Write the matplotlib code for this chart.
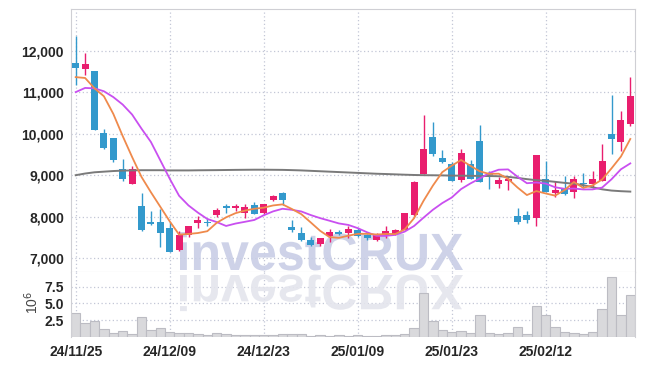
import numpy as np
import pandas as pd
import matplotlib
matplotlib.use("Agg")
import matplotlib.pyplot as plt
from matplotlib.font_manager import FontProperties
from matplotlib.textpath import TextPath
from matplotlib.patches import PathPatch
from matplotlib.transforms import Affine2D
from matplotlib.ticker import FuncFormatter

# trading days (KRX), ticks every 10 sessions
holidays = ["2024-12-25", "2024-12-31", "2025-01-01",
            "2025-01-27", "2025-01-28", "2025-01-29", "2025-01-30"]
dates = pd.bdate_range("2024-11-25", "2025-02-25", freq="C", holidays=holidays)

opens = [11710, 11550, 11500, 10010, 9890, 9150, 8790, 8260, 7870, 7880,
         7740, 7200, 7560, 7840, 7880, 8030, 8265, 8200, 8080, 8280,
         8080, 8410, 8570, 7760, 7610, 7450, 7340, 7530, 7610, 7600,
         7690, 7550, 7450, 7530, 7580, 7680, 8030, 9030, 9930, 9420,
         9260, 8890, 9260, 9820, 9030, 8790, 8870, 8010, 8040, 7960,
         8900, 8560, 8680, 8590, 8810, 8800, 8870, 9990, 9800, 10230]
highs = [12360, 11950, 11500, 10100, 9900, 9380, 9230, 8560, 8140, 8180,
         7870, 7660, 7780, 8010, 7960, 8200, 8300, 8310, 8300, 8360,
         8310, 8530, 8590, 7920, 7760, 7520, 7500, 7710, 7680, 7770,
         7740, 7580, 7610, 7770, 7700, 8100, 8850, 10440, 10270, 9600,
         9320, 9640, 9360, 10200, 9090, 8950, 8970, 8200, 8140, 9490,
         9340, 8870, 8970, 8970, 9050, 9110, 9750, 10920, 10540, 11370]
lows = [11180, 11400, 10080, 9620, 9320, 8860, 8790, 7660, 7790, 7260,
        7160, 7180, 7520, 7720, 7770, 7995, 8090, 8150, 7980, 8060,
        8060, 8380, 8280, 7640, 7420, 7300, 7290, 7390, 7550, 7480,
        7510, 7440, 7420, 7480, 7570, 7670, 8020, 9030, 9470, 9290,
        8850, 8830, 8910, 8840, 8670, 8680, 8640, 7830, 7840, 7780,
        8590, 8470, 8530, 8440, 8680, 8700, 8860, 9500, 9590, 10180]
closes = [11580, 11680, 10090, 9660, 9370, 8910, 9160, 7690, 7820, 7620,
          7160, 7560, 7770, 7930, 7840, 8170, 8220, 8270, 8240, 8060,
          8300, 8490, 8400, 7680, 7440, 7310, 7480, 7640, 7590, 7700,
          7530, 7490, 7550, 7660, 7690, 8090, 8840, 9630, 9500, 9310,
          8860, 9530, 8920, 8840, 9000, 8890, 8910, 7880, 7930, 9480,
          8600, 8650, 8540, 8910, 8780, 8900, 9350, 9880, 10330, 10900]
# volume in millions of shares
volume = [3.6, 2.1, 2.4, 1.2, 0.55, 0.9, 0.4, 3.0, 1.05, 1.35,
          0.75, 0.6, 0.55, 0.4, 0.25, 0.55, 0.45, 0.3, 0.35, 0.3,
          0.35, 0.3, 0.45, 0.5, 0.4, 0.2, 0.25, 0.2, 0.35, 0.2,
          0.25, 0.15, 0.2, 0.35, 0.3, 0.45, 1.35, 6.5, 2.4, 1.0,
          0.75, 0.85, 0.55, 3.3, 0.55, 0.4, 0.55, 1.45, 0.4, 4.65,
          3.3, 1.45, 0.7, 0.55, 0.4, 0.7, 4.2, 8.9, 3.3, 6.3]
ma5 = [11360, 11340, 11090, 10900, 10476, 9942, 9438, 8958, 8590, 8240,
       7890, 7570, 7586, 7608, 7652, 7854, 7986, 8086, 8148, 8192,
       8218, 8272, 8298, 8186, 8062, 7864, 7662, 7510, 7492, 7544,
       7588, 7590, 7572, 7586, 7584, 7696, 7966, 8382, 8750, 9074,
       9228, 9366, 9224, 9092, 9030, 9036, 8912, 8704, 8522, 8618,
       8560, 8508, 8640, 8836, 8696, 8756, 8896, 9164, 9448, 9872]
ma10 = [11000, 11100, 11090, 11020, 10880, 10700, 10460, 10120, 9800, 9358,
        8916, 8504, 8272, 8099, 7946, 7872, 7778, 7836, 7878, 7922,
        8036, 8129, 8192, 8167, 8127, 8041, 7967, 7904, 7839, 7803,
        7726, 7626, 7541, 7539, 7564, 7642, 7778, 7977, 8168, 8329,
        8462, 8666, 8803, 8921, 9052, 9132, 9139, 8964, 8807, 8824,
        8798, 8710, 8672, 8679, 8657, 8658, 8702, 8902, 9142, 9284]
ma_long = [9000, 9040, 9070, 9085, 9100, 9110, 9115, 9120, 9120, 9120,
           9115, 9115, 9115, 9118, 9120, 9122, 9125, 9128, 9130, 9132,
           9132, 9130, 9128, 9122, 9115, 9105, 9095, 9085, 9075, 9065,
           9055, 9045, 9035, 9028, 9020, 9012, 9005, 9000, 8998, 8995,
           8990, 8988, 8985, 8982, 8980, 8975, 8960, 8935, 8905, 8880,
           8865, 8840, 8815, 8795, 8760, 8710, 8660, 8630, 8615, 8605]

FONT = ["Liberation Sans", "DejaVu Sans"]
plt.rcParams["font.family"] = FONT
UP, DOWN = "#e91e6e", "#3399cc"
GRID = "#c3c7d6"
TXT = "#262626"

W, H = 645, 366
fig = plt.figure(figsize=(W / 100, H / 100), dpi=100)
ax = fig.add_axes([71 / W, 1 - 272 / H, 564 / W, 263 / H])
axv = fig.add_axes([71 / W, 1 - 337 / H, 564 / W, 65 / H], sharex=ax)

x = np.arange(len(closes))
o, h, l, c = map(np.asarray, (opens, highs, lows, closes))
cols = np.where(c >= o, UP, DOWN)
ax.vlines(x, l, h, colors=cols, lw=1.0, zorder=3)
ax.bar(x, np.maximum(np.abs(c - o), 40), bottom=np.minimum(o, c),
       width=0.74, color=cols, lw=0, zorder=4)

ax.plot(x, ma_long, color="#7a7a7a", lw=1.4, zorder=5)
ax.plot(x, ma10, color="#c94ff0", lw=1.3, zorder=5)
ax.plot(x, ma5, color="#ef8a4c", lw=1.3, zorder=5)

ax.set_xlim(-0.5, len(x) - 0.5)
ax.set_ylim(6670, 13000)
ax.set_yticks(range(7000, 12001, 1000))
ax.yaxis.set_major_formatter(FuncFormatter(lambda v, p: f"{int(v):,}"))

axv.bar(x, volume, width=1.0, color="#d9d9dc", edgecolor="#bcbcc3", lw=0.8, zorder=2)
axv.set_ylim(0, 9.7)
axv.set_yticks([2.5, 5.0, 7.5])
axv.set_yticklabels(["2.5", "5.0", "7.5"])

tick_idx = list(range(0, len(dates), 10))
axv.set_xticks(tick_idx)
axv.set_xticklabels([dates[i].strftime("%y/%m/%d") for i in tick_idx])

for a in (ax, axv):
    a.set_axisbelow(True)
    a.grid(True, ls=(0, (1, 2)), color=GRID, lw=0.9)
    a.tick_params(length=0, labelsize=10, labelcolor=TXT, pad=5)
    for lab in a.get_xticklabels() + a.get_yticklabels():
        lab.set_fontweight("bold")
    for s in a.spines.values():
        s.set_color("#cfcfd4")
ax.tick_params(labelbottom=False)
axv.spines["top"].set_visible(False)
axv.spines["bottom"].set_visible(False)
axv.tick_params(axis="x", pad=6)

fig.text(32 / W, 1 - 302 / H, "10$^{6}$", rotation=90, ha="center", va="center",
         fontsize=10, color="#444444")

# watermark with its reflection
fp = FontProperties(family=FONT, weight="bold")
tp = TextPath((0, 0), "investCRUX", size=50, prop=fp)
ext = tp.get_extents()
sx = 283 / ext.width
sy = 38 / ext.y1
base = H - 270
main = Affine2D().translate(-ext.x0, 0).scale(sx, sy).translate(180, base)
ax.add_patch(PathPatch(tp, transform=main, color="#c9cee6", alpha=0.9,
                       lw=0, zorder=2.5, clip_on=False))
refl = Affine2D().translate(-ext.x0, 0).scale(sx, -sy * 0.95).translate(180, base - 5)
axv.add_patch(PathPatch(tp, transform=refl, color="#e4e5ed", alpha=0.9,
                        lw=0, zorder=1.5, clip_on=False))

fig.savefig("out.png", dpi=100)
